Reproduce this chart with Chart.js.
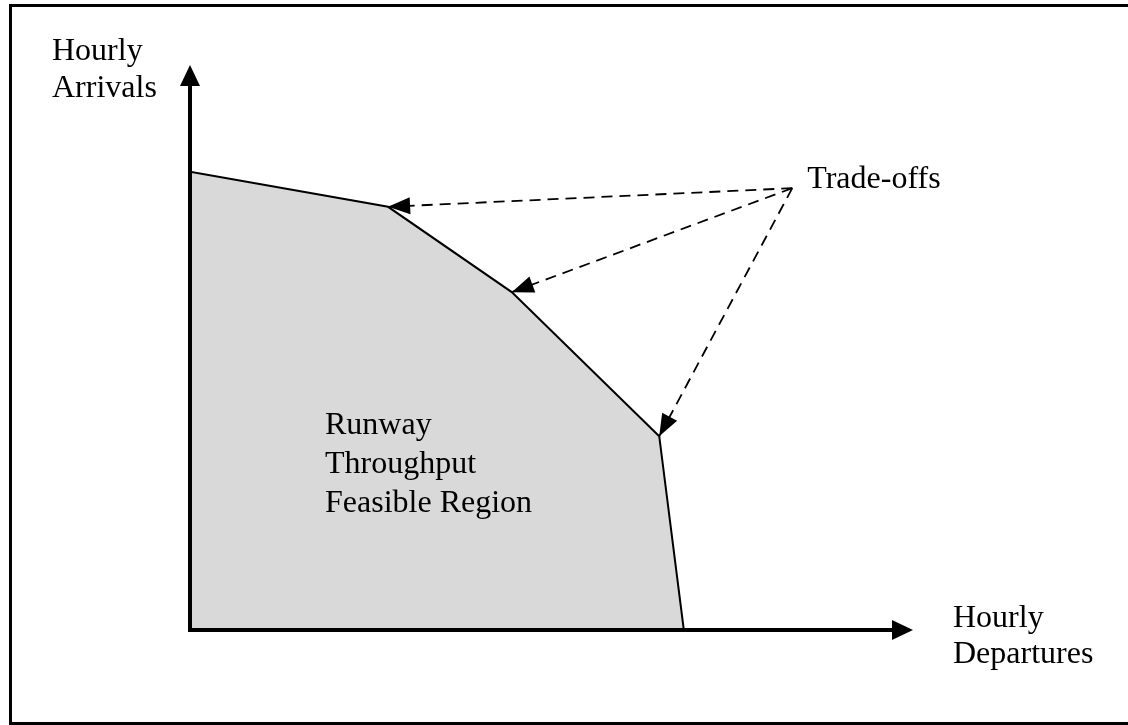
<!DOCTYPE html>
<html lang="en">
<head>
    <meta charset="UTF-8">
    <title>Runway Throughput Feasible Region</title>
    <script src="https://cdn.jsdelivr.net/npm/chart.js"></script>
    <style>
        body { margin: 0; background: #fff; }
        canvas { display: block; }
    </style>
</head>
<body>
    <canvas id="chart" width="1128" height="725"></canvas>

    <script>
        // capacity envelope (departures vs arrivals, arbitrary units 0-100)
        const departures = [0, 27.4, 44.5, 64.9, 68.3];
        const arrivals = [81.1, 74.9, 59.8, 34.3, 0];

        // where the "Trade-offs" arrows start, and which vertices they point at
        const tradeOffOrigin = [83.3, 78.2];
        const tradeOffTargets = [1, 2, 3];

        const axisMax = 100;
        const labelFont = '32px "Liberation Serif", "Times New Roman", serif';

        const envelope = departures.map((d, i) => ({ x: d, y: arrivals[i] }));

        const arrowSets = tradeOffTargets.map(i => ({
            data: [
                { x: tradeOffOrigin[0], y: tradeOffOrigin[1] },
                { x: departures[i], y: arrivals[i] }
            ],
            showLine: true,
            borderColor: '#000',
            borderWidth: 1.8,
            borderDash: [11, 7],
            pointRadius: 0,
            fill: false,
            tension: 0
        }));

        function arrowHead(ctx, fromX, fromY, toX, toY, len, half) {
            const a = Math.atan2(toY - fromY, toX - fromX);
            ctx.beginPath();
            ctx.moveTo(toX, toY);
            ctx.lineTo(toX - len * Math.cos(a) + half * Math.sin(a), toY - len * Math.sin(a) - half * Math.cos(a));
            ctx.lineTo(toX - len * Math.cos(a) - half * Math.sin(a), toY - len * Math.sin(a) + half * Math.cos(a));
            ctx.closePath();
            ctx.fill();
        }

        const diagramPlugin = {
            id: 'diagram',
            beforeDraw(chart) {
                const ctx = chart.ctx;
                ctx.save();
                ctx.fillStyle = '#fff';
                ctx.fillRect(0, 0, chart.width, chart.height);
                ctx.restore();
            },
            afterDatasetsDraw(chart) {
                const ctx = chart.ctx;
                const xs = chart.scales.x, ys = chart.scales.y;
                const x0 = xs.getPixelForValue(0), y0 = ys.getPixelForValue(0);
                const xEnd = xs.getPixelForValue(axisMax), yEnd = ys.getPixelForValue(axisMax);
                ctx.save();
                ctx.fillStyle = '#000';
                ctx.strokeStyle = '#000';

                // axes with arrows
                ctx.lineWidth = 4;
                ctx.beginPath();
                ctx.moveTo(x0, y0 + 2);
                ctx.lineTo(x0, yEnd + 15);
                ctx.moveTo(x0 - 2, y0);
                ctx.lineTo(xEnd - 15, y0);
                ctx.stroke();
                arrowHead(ctx, x0, y0, x0, yEnd, 21, 10);
                arrowHead(ctx, x0, y0, xEnd, y0, 21, 10);

                // trade-off arrowheads
                const ox = xs.getPixelForValue(tradeOffOrigin[0]);
                const oy = ys.getPixelForValue(tradeOffOrigin[1]);
                tradeOffTargets.forEach(i => {
                    const tx = xs.getPixelForValue(departures[i]);
                    const ty = ys.getPixelForValue(arrivals[i]);
                    arrowHead(ctx, ox, oy, tx, ty, 22, 8.5);
                });

                // outer frame
                ctx.lineWidth = 3;
                ctx.strokeRect(10.5, 5.5, 1130, 718);
                ctx.restore();
            },
            afterDraw(chart) {
                const ctx = chart.ctx;
                const xs = chart.scales.x, ys = chart.scales.y;
                const x0 = xs.getPixelForValue(0), y0 = ys.getPixelForValue(0);
                const xEnd = xs.getPixelForValue(axisMax), yEnd = ys.getPixelForValue(axisMax);
                ctx.save();
                ctx.fillStyle = '#000';
                ctx.font = labelFont;
                ctx.textBaseline = 'alphabetic';
                ctx.textAlign = 'left';

                ctx.fillText('Hourly', x0 - 138, yEnd - 5);
                ctx.fillText('Arrivals', x0 - 138, yEnd + 32);

                ctx.fillText('Hourly', xEnd + 40, y0 - 3);
                ctx.fillText('Departures', xEnd + 40, y0 + 33);

                const ox = xs.getPixelForValue(tradeOffOrigin[0]);
                const oy = ys.getPixelForValue(tradeOffOrigin[1]);
                ctx.fillText('Trade-offs', ox + 15, oy);

                ['Runway', 'Throughput', 'Feasible Region'].forEach((t, k) => {
                    ctx.fillText(t, x0 + 135, 434 + k * 39);
                });
                ctx.restore();
            }
        };

        new Chart(document.getElementById('chart'), {
            type: 'scatter',
            data: {
                datasets: [{
                    data: envelope,
                    showLine: true,
                    borderColor: '#000',
                    borderWidth: 2,
                    backgroundColor: '#d9d9d9',
                    fill: 'origin',
                    pointRadius: 0,
                    tension: 0
                }, ...arrowSets]
            },
            options: {
                responsive: false,
                animation: false,
                layout: { padding: { left: 190, right: 215, top: 65, bottom: 95 } },
                plugins: { legend: { display: false }, tooltip: { enabled: false } },
                scales: {
                    x: { type: 'linear', min: 0, max: axisMax, display: false },
                    y: { type: 'linear', min: 0, max: axisMax, display: false }
                }
            },
            plugins: [diagramPlugin]
        });
    </script>
</body>
</html>
